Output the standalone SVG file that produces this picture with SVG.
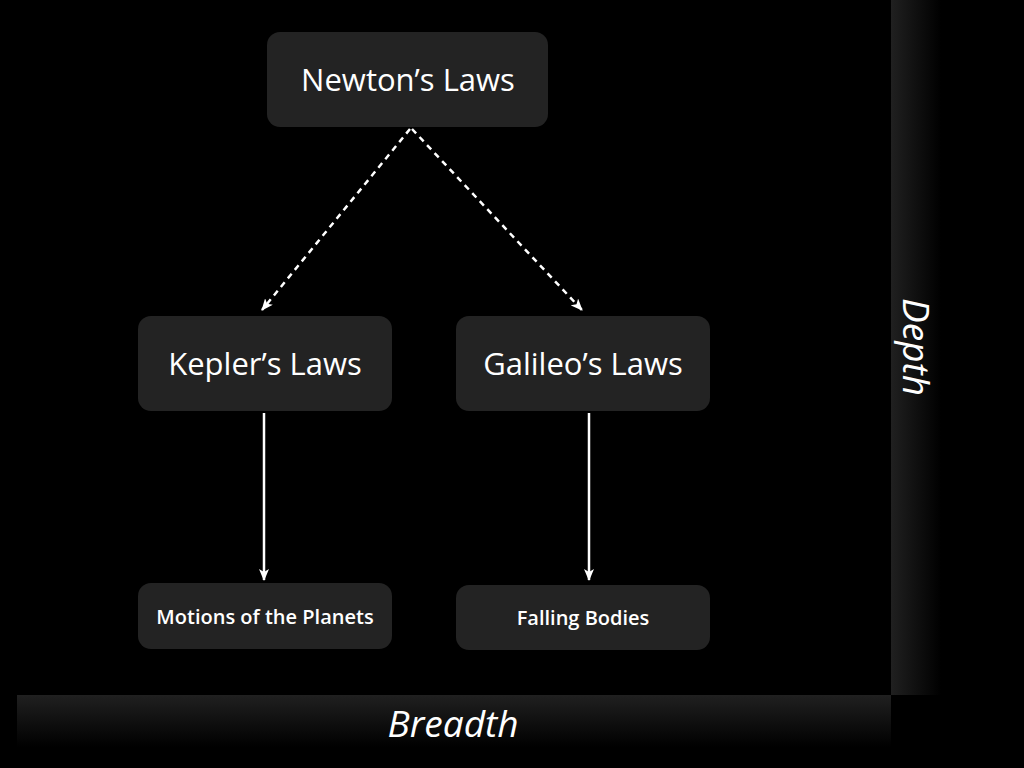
<svg xmlns="http://www.w3.org/2000/svg" width="1024" height="768" viewBox="0 0 1024 768">
<style>
.node{fill:#232323}
.lbl{fill:#fff;font-family:"Open Sans","Liberation Sans",sans-serif;text-anchor:middle}
.big{font-size:31px;font-weight:500}
.small{font-size:20px;font-weight:600}
.axis{fill:#fff;font-family:"Open Sans","Liberation Sans",sans-serif;font-style:italic;font-size:37px;font-weight:500;text-anchor:middle}
.con{stroke:#fff;stroke-width:2.5;fill:none}
.dash{stroke-dasharray:6,5}
</style>
<defs>
<linearGradient id="gv" x1="0" y1="0" x2="0" y2="1">
<stop offset="0" stop-color="#202020"/><stop offset="1" stop-color="#000"/>
</linearGradient>
<linearGradient id="gh" x1="0" y1="0" x2="1" y2="0">
<stop offset="0" stop-color="#202020"/><stop offset="1" stop-color="#000"/>
</linearGradient>
<marker id="ah" viewBox="0 0 12 10" refX="11" refY="5" markerWidth="12" markerHeight="10" markerUnits="userSpaceOnUse" orient="auto">
<path d="M0,0 L12,5 L0,10 L3,5 z" fill="#fff"/>
</marker>
</defs>
<rect width="1024" height="768" fill="#000"/>
<g id="axes">
<rect x="891" y="0" width="50" height="695" fill="url(#gh)"/>
<rect x="17" y="695" width="874" height="52" fill="url(#gv)"/>
<text class="axis" x="453" y="737">Breadth</text>
<text class="axis" transform="translate(903,347) rotate(90)" x="0" y="0">Depth</text>
</g>
<g id="connectors">
<line class="con dash" x1="410" y1="129" x2="262" y2="310" marker-end="url(#ah)"/>
<line class="con dash" x1="412" y1="129" x2="582" y2="310" marker-end="url(#ah)"/>
<line class="con" x1="264" y1="413" x2="264" y2="580" marker-end="url(#ah)"/>
<line class="con" x1="589" y1="413" x2="589" y2="580" marker-end="url(#ah)"/>
</g>
<g id="newton">
<rect class="node" x="267" y="32" width="281" height="95" rx="13"/>
<text class="lbl big" x="408" y="91">Newton’s Laws</text>
</g>
<g id="kepler">
<rect class="node" x="138" y="316" width="254" height="95" rx="13"/>
<text class="lbl big" x="265" y="375">Kepler’s Laws</text>
</g>
<g id="galileo">
<rect class="node" x="456" y="316" width="254" height="95" rx="13"/>
<text class="lbl big" x="583" y="375">Galileo’s Laws</text>
</g>
<g id="motions">
<rect class="node" x="138" y="583" width="254" height="66" rx="13"/>
<text class="lbl small" x="265" y="624">Motions of the Planets</text>
</g>
<g id="falling">
<rect class="node" x="456" y="585" width="254" height="65" rx="13"/>
<text class="lbl small" x="583" y="625">Falling Bodies</text>
</g>
</svg>
